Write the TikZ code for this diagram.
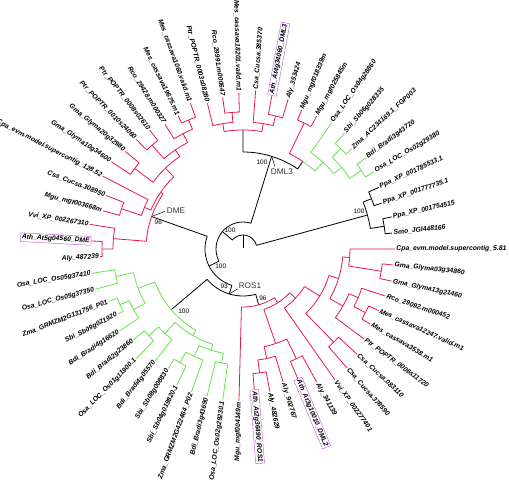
\documentclass[tikz,border=0pt]{standalone}
\usepackage{fontspec}
\setmainfont{Liberation Sans}
\usepackage{tikz}
\definecolor{rd}{HTML}{E31A4C}
\definecolor{gn}{HTML}{66E34D}
\definecolor{boxc}{HTML}{CC66EE}
\def\da{6.1017}
% one split of the tree: radius, then (index, tip radius, colour) for each child
\newcommand{\clade}[7]{%
  \draw[#4] ({(#2+#5)/2*\da}:#1) arc[start angle={(#2+#5)/2*\da}, end angle={#2*\da}, radius=#1] -- ({#2*\da}:#3);
  \draw[#7] ({(#2+#5)/2*\da}:#1) arc[start angle={(#2+#5)/2*\da}, end angle={#5*\da}, radius=#1] -- ({#5*\da}:#6);}

\begin{document}
\begin{tikzpicture}[x=1pt, y=1pt, line width=0.8pt, line join=round,
  leaf/.style={font=\fontsize{6.8}{7}\selectfont\bfseries\itshape, inner sep=1.2pt},
  bs/.style={font=\fontsize{6.5}{7}\selectfont, inner sep=0pt},
  clab/.style={font=\fontsize{8.2}{9}\selectfont, text=black!80, inner sep=0pt}]
  \useasboundingbox (-243,-233) rectangle (266,249);
  % root and backbone
  \draw[black] (90:1) -- (90:14);
  \clade{14}{2.5}{129}{black}{22.9077}{27}{black}
  \clade{27}{11.9375}{97}{black}{33.8779}{38}{black}
  \clade{38}{26.2969}{97}{black}{41.459}{47}{black}
  \clade{47}{36.0938}{94}{black}{46.8242}{58}{black}
  % Ppa / Smo
  \clade{129}{1.5}{143}{black}{3.5}{138}{black}
  \clade{143}{1}{150}{black}{2}{152}{black}
  \clade{138}{3}{146}{black}{4}{149}{black}
  % DML3
  \clade{97}{9.125}{106}{black}{14.75}{119}{black}
  \clade{106}{7.75}{118}{gn}{10.5}{140}{rd}
  \clade{118}{6.5}{128}{gn}{9}{154}{gn}
  \clade{128}{5.5}{142}{gn}{7.5}{140}{gn}
  \clade{142}{5}{152}{gn}{6}{153}{gn}
  \clade{140}{7}{148}{gn}{8}{154}{gn}
  \clade{140}{10}{152}{rd}{11}{151}{rd}
  \clade{119}{13.25}{127}{rd}{16.25}{127}{rd}
  \clade{127}{12.5}{137}{rd}{14}{159}{rd}
  \clade{137}{12}{156}{rd}{13}{156}{rd}
  \clade{127}{15.5}{137}{rd}{17}{150}{rd}
  \clade{137}{15}{156}{rd}{16}{153}{rd}
  % DME
  \clade{97}{23.8438}{100}{rd}{28.75}{130}{rd}
  \clade{100}{21.9375}{112}{rd}{25.75}{107}{rd}
  \clade{107}{25}{158}{rd}{26.5}{128}{rd}
  \clade{128}{26}{147}{rd}{27}{145}{rd}
  \clade{112}{20.375}{120}{rd}{23.5}{135}{rd}
  \clade{120}{19.25}{130}{rd}{21.5}{138}{rd}
  \clade{130}{18.5}{140}{rd}{20}{147}{rd}
  \clade{140}{18}{155}{rd}{19}{148}{rd}
  \clade{138}{21}{151}{rd}{22}{153}{rd}
  \clade{135}{23}{153}{rd}{24}{158}{rd}
  \clade{130}{28}{155}{rd}{29.5}{141}{rd}
  \clade{141}{29}{152}{rd}{30}{143}{rd}
  % monocots
  \clade{94}{32.875}{112}{gn}{39.3125}{100}{gn}
  \clade{112}{31.5}{130}{gn}{34.25}{125}{gn}
  \clade{130}{31}{153}{gn}{32}{153}{gn}
  \clade{125}{33.5}{135}{gn}{35}{148}{gn}
  \clade{135}{33}{144}{gn}{34}{141}{gn}
  \clade{100}{37.25}{115}{gn}{41.375}{106}{gn}
  \clade{115}{36.5}{128}{gn}{38}{142}{gn}
  \clade{128}{36}{142}{gn}{37}{153}{gn}
  \clade{106}{40.25}{118}{gn}{42.5}{116}{gn}
  \clade{118}{39.5}{130}{gn}{41}{152}{gn}
  \clade{130}{39}{141}{gn}{40}{151}{gn}
  \clade{116}{42}{152}{gn}{43}{152}{gn}
  % ROS1
  \clade{58}{44}{152}{rd}{49.6484}{64}{rd}
  \clade{64}{47.375}{100}{rd}{51.9219}{72}{rd}
  \clade{100}{46.25}{112}{rd}{48.5}{122}{rd}
  \clade{112}{45.5}{125}{rd}{47}{139}{rd}
  \clade{125}{45}{141}{rd}{46}{145}{rd}
  \clade{122}{48}{141}{rd}{49}{152}{rd}
  \clade{72}{50}{160}{rd}{53.8438}{90}{rd}
  \clade{90}{51.5}{130}{rd}{56.1875}{100}{rd}
  \clade{130}{51}{158}{rd}{52}{155}{rd}
  \clade{100}{54.125}{115}{rd}{58.25}{107}{rd}
  \clade{115}{53}{151}{rd}{55.25}{125}{rd}
  \clade{125}{54.5}{138}{rd}{56}{150}{rd}
  \clade{138}{54}{148}{rd}{55}{149}{rd}
  \clade{107}{57.5}{140}{rd}{59}{152}{rd}
  \clade{140}{57}{152}{rd}{58}{151}{rd}
  % leaf labels
  \foreach \k/\r/\bc/\t in {
    1/150/none/Smo\_JGI448166, 2/152/none/Ppa\_XP\_001754515,
    3/146/none/Ppa\_XP\_001777735.1, 4/149/none/Ppa\_XP\_001785533.1,
    5/152/none/Osa\_LOC\_Os02g29380, 6/153/none/Bdi\_Bradi3g43720,
    7/148/none/Zma\_AC234169.1\_FGP003, 8/154/none/Sbi\_Sb06g028335,
    9/154/none/Osa\_LOC\_Os04g28860, 10/152/none/Mgu\_mgf025845m,
    11/151/none/Mgu\_mgf018339m, 12/156/none/Aly\_353424,
    13/156/boxc/Ath\_At4g34060\_DML3, 14/159/none/Csa\_Cucsa.385370,
    15/156/none/Mes\_cassava18201.valid.m1, 16/153/none/Rco\_29991.m000647,
    17/150/none/Ptr\_POPTR\_0003s08280, 18/155/none/Mes\_cassava1060.valid.m1,
    19/148/none/Mes\_cassava19675.m1, 20/147/none/Rco\_29428.m000327,
    21/151/none/Ptr\_POPTR\_0008s02610, 22/153/none/Ptr\_POPTR\_0010s24060,
    23/153/none/Gma\_Glyma20g32980, 24/158/none/Gma\_Glyma10g34600,
    25/158/none/Cpa\_evm.model.supercontig\_128.52, 26/147/none/Csa\_Cucsa.308950,
    27/145/none/Mgu\_mgf003668m, 28/155/none/Vvi\_XP\_002267310,
    29/152/boxc/Ath\_At5g04560\_DME, 30/143/none/Aly\_487239,
    31/153/none/Osa\_LOC\_Os05g37410, 32/153/none/Osa\_LOC\_Os05g37350,
    33/144/none/Zma\_GRMZM2G131756\_P01, 34/141/none/Sbi\_Sb09g021920,
    35/148/none/Bdi\_Bradi4g16620, 36/142/none/Bdi\_Bradi2g23860,
    37/153/none/Osa\_LOC\_Os01g11900.1, 38/142/none/Bdi\_Bradi4g05570,
    39/141/none/Sbi\_Sb08g008830, 40/151/none/Sbi\_Sb04g019820.1,
    41/152/none/Zma\_GRMZM2G422464\_P02, 42/152/none/Bdi\_Bradi3g43690,
    43/152/none/Osa\_LOC\_Os02g29230.1, 44/152/none/Mgu\_mgf004149m,
    45/141/boxc/Ath\_At2g36490\_ROS1, 46/145/none/Aly\_482629,
    47/139/none/Aly\_902767, 48/141/boxc/Ath\_At3g10010\_DML2,
    49/152/none/Aly\_341139, 50/160/none/Vvi\_XP\_002277401,
    51/158/none/Csa\_Cucsa.378590, 52/155/none/Csa\_Cucsa.083110,
    53/151/none/Ptr\_POPTR\_0006s11720, 54/148/none/Mes\_cassava3538.m1,
    55/149/none/Mes\_cassava12247.valid.m1, 56/150/none/Rco\_29092.m000452,
    57/152/none/Gma\_Glyma13g21460, 58/151/none/Gma\_Glyma03g34860,
    59/152/none/Cpa\_evm.model.supercontig\_5.81}{
    \pgfmathsetmacro{\a}{\k*\da}
    \pgfmathtruncatemacro{\flip}{and(\a>90,\a<270)}
    \ifnum\flip=1
      \node[leaf, draw=\bc, line width=0.5pt, anchor=east, rotate=\a+180] (L\k) at (\a:\r) {\t};
    \else
      \node[leaf, draw=\bc, line width=0.5pt, anchor=west, rotate=\a] (L\k) at (\a:\r) {\t};
    \fi
  }
  % bootstrap values
  \node[bs] (bX) at (-13,19) {100};
  \node[bs] (bD3) at (19,87) {100};
  \node[bs] (bDME) at (-84.7,26.5) {96};
  \node[bs] (bY) at (-22.2,-17) {100};
  \node[bs] (bZ) at (-18.8,-37.7) {93};
  \node[bs] (bROS) at (20,-49.3) {96};
  \node[bs] (bG2) at (-59.2,-62.7) {100};
  \node[bs] (bPpa) at (116,37.3) {100};
  % clade names
  \coordinate (cD3) at ({11.9375*\da}:97);
  \coordinate (cDME) at ({26.2969*\da}:97);
  \coordinate (cROS) at ({41.459*\da}:47);
  \node[clab, anchor=west] (tDME) at (-76.5,38.2) {DME};
  \draw[line width=0.5pt, shorten >=1.5pt] (cDME) -- (tDME.west);
  \draw[line width=0.5pt] (cD3) -- ++(3.3,-10) node[clab, anchor=north, xshift=7pt, yshift=-2pt] (tD3) {DML3};
  \draw[line width=0.5pt] (cROS) -- ++(8.3,5) node[clab, anchor=south west, xshift=1pt] (tROS) {ROS1};
\end{tikzpicture}
\end{document}
